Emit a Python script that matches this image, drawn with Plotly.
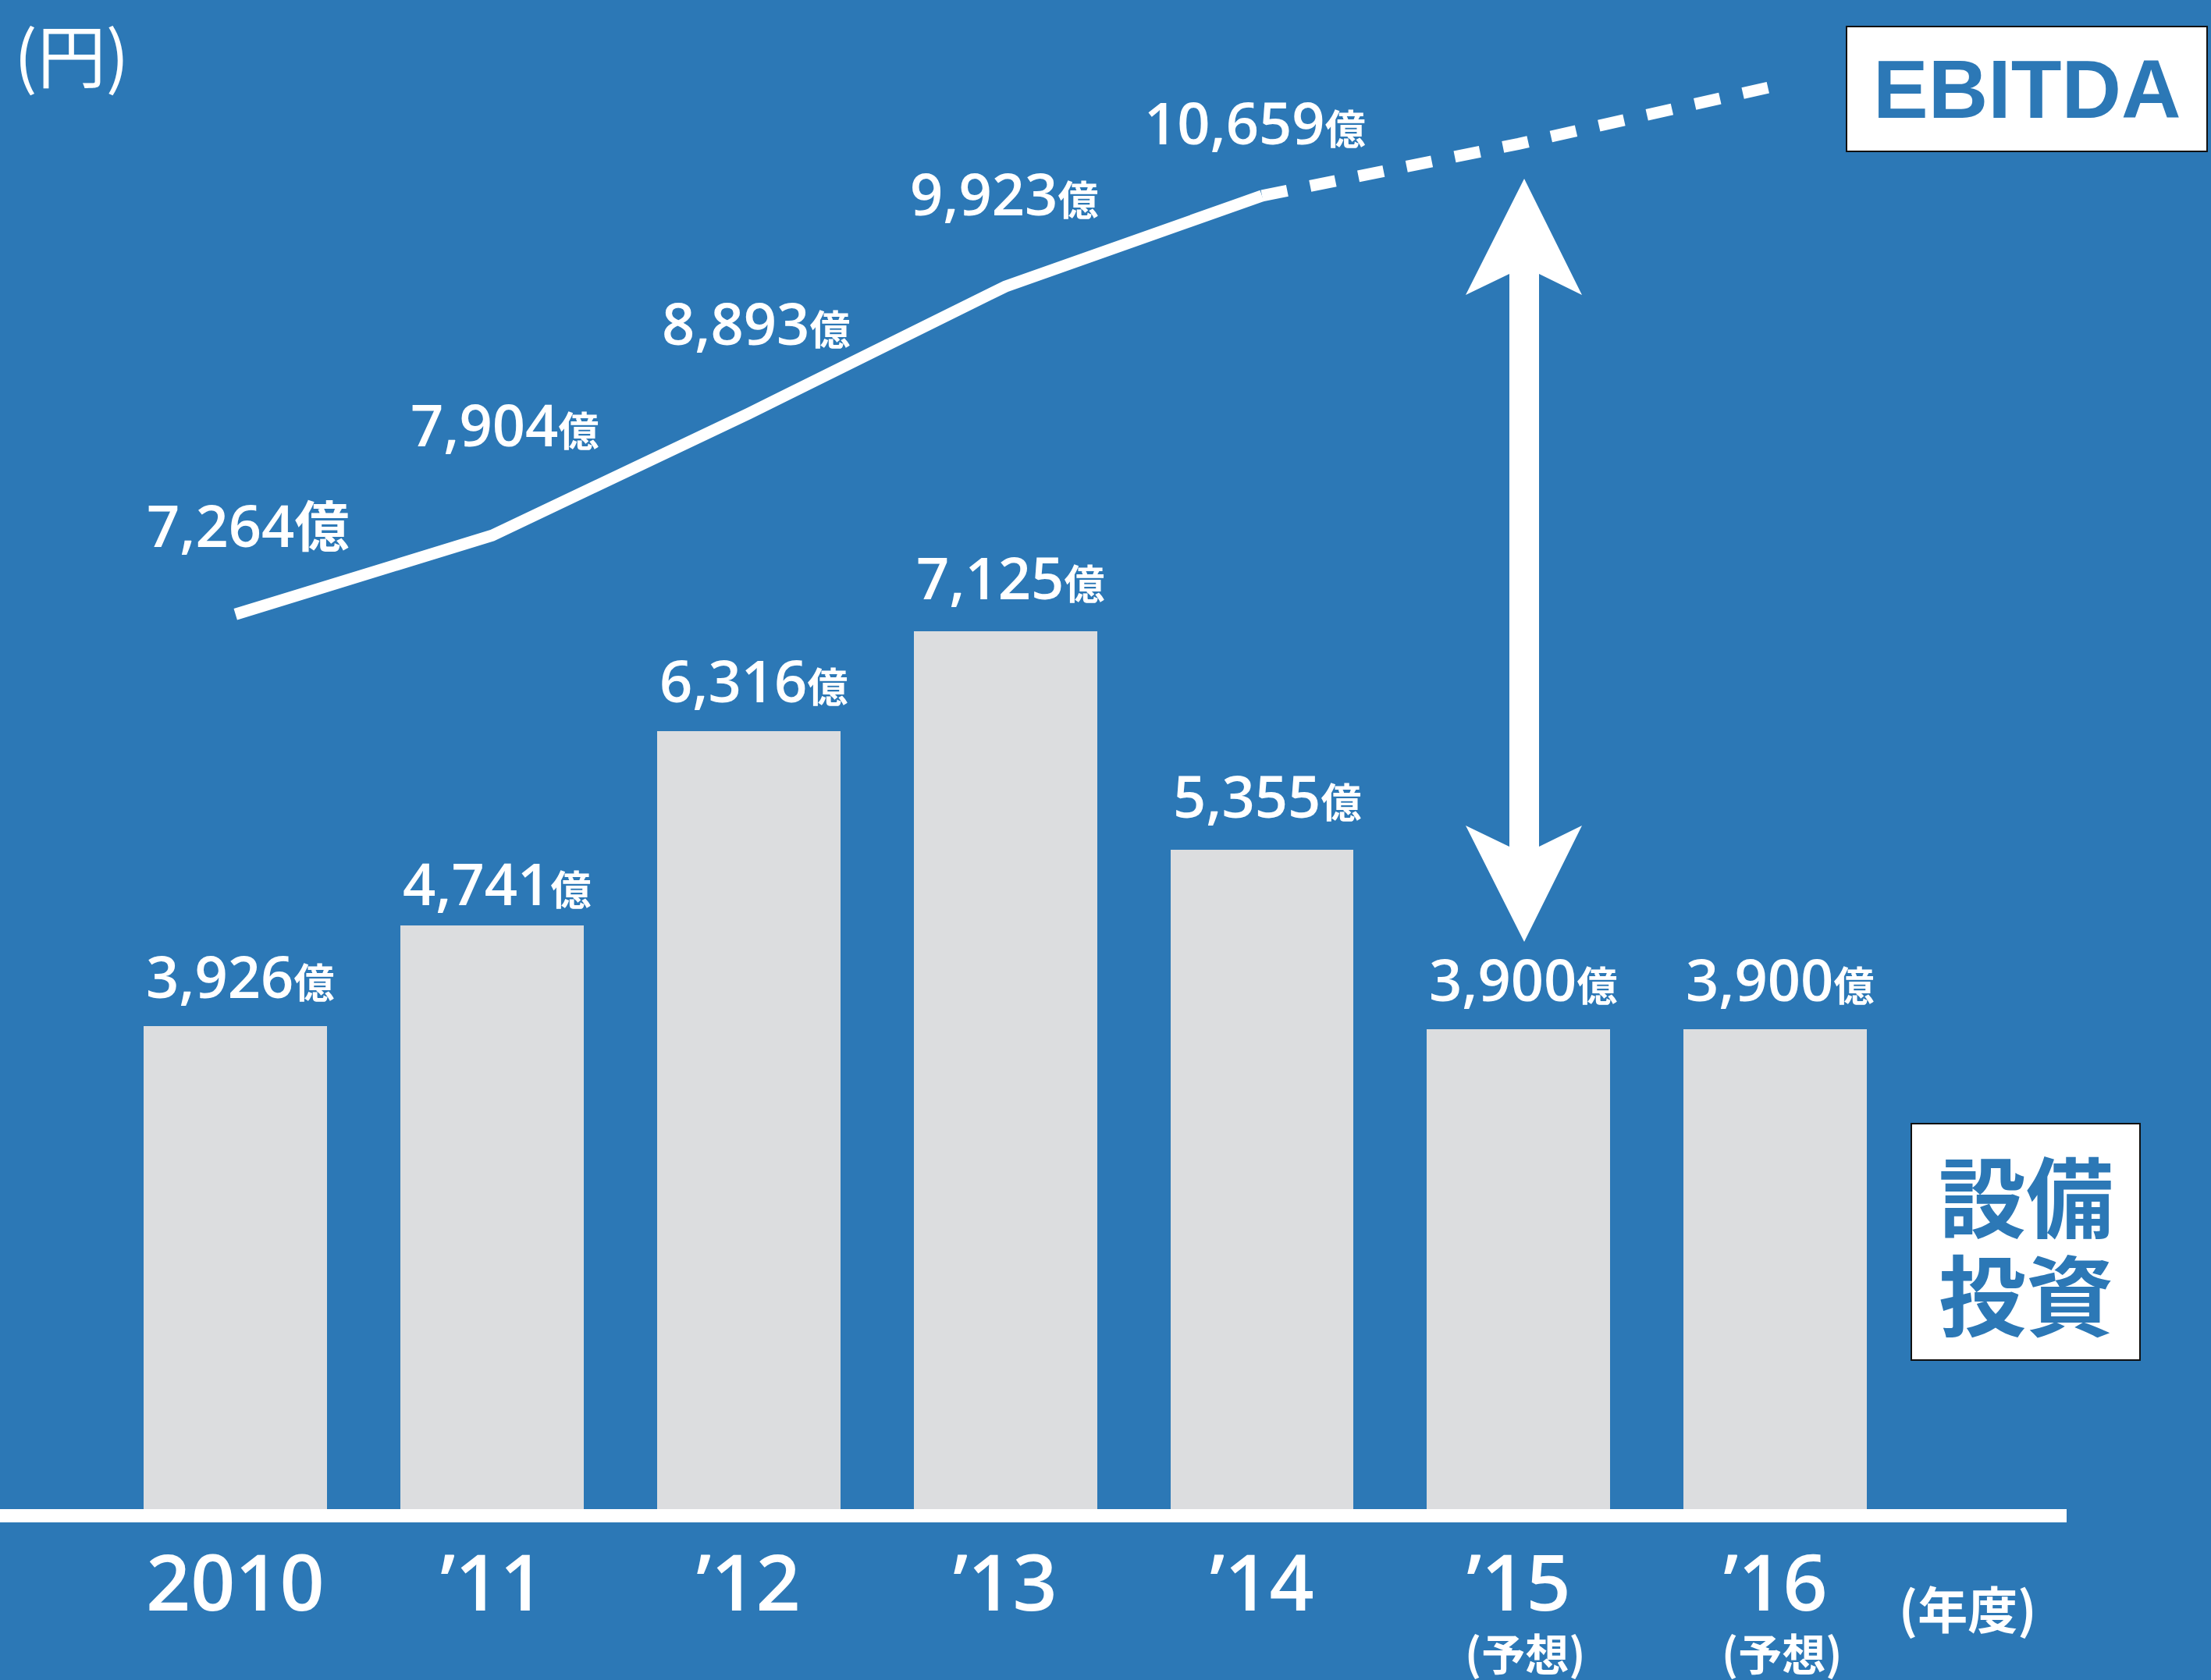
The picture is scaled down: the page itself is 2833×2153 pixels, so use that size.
import plotly.graph_objects as go

# ---------------- data ----------------
categories = ["2010", "'11", "'12", "'13", "'14", "'15", "'16"]
tick_labels = ["2010", "’11", "’12", "’13", "’14", "’15", "’16"]
tick_notes = ["", "", "", "", "", "(予想)", "(予想)"]
capex = [3926, 4741, 6316, 7125, 5355, 3900, 3900]          # 設備投資 (億円)
ebitda_years = ["2010", "'11", "'12", "'13", "'14"]
ebitda = [7264, 7904, 8893, 9923, 10659]                     # EBITDA (億円)
forecast_years = ["'14", "'15", "'16"]
ebitda_forecast = [10659, 11080, 11550]                      # 予想 (dashed, unlabeled)

# ---------------- styles ----------------
W, H = 2833, 2153
BG = "#2C78B6"
BAR = "#DCDDDF"
WHITE = "#FFFFFF"
NUM_FONT = "Open Sans, Noto Sans CJK JP"
CJK_FONT = "Noto Sans CJK JP"

xi = {c: i for i, c in enumerate(categories)}

def px_x(p):
    return p / W

def px_y(p):
    return 1 - p / H

def fmt(v):
    return f"{v:,}"

fig = go.Figure()

fig.add_trace(go.Bar(
    x=[xi[c] for c in categories], y=capex,
    width=0.714, marker=dict(color=BAR, line=dict(width=0)),
    hoverinfo="skip", showlegend=False,
))

fig.add_trace(go.Scatter(
    x=[xi[c] for c in ebitda_years], y=ebitda, mode="lines",
    line=dict(color=WHITE, width=15), hoverinfo="skip", showlegend=False,
))
fig.add_trace(go.Scatter(
    x=[xi[c] for c in forecast_years], y=ebitda_forecast, mode="lines",
    line=dict(color=WHITE, width=15, dash="33px,30px"),
    hoverinfo="skip", showlegend=False,
))

annotations = []

# bar labels
bar_yshift = [12, 2, 13, 17, 17, 12, 12]
for c, v, ys in zip(categories, capex, bar_yshift):
    annotations.append(dict(
        x=xi[c], y=v, xref="x", yref="y", yanchor="bottom", xanchor="center",
        yshift=ys, xshift=6, showarrow=False,
        text=f"{fmt(v)}<span style='font-size:52px'>億</span>",
        font=dict(family=NUM_FONT, size=74, color=WHITE, weight=600),
    ))

# line labels
line_unit_sizes = [70, 52, 52, 52, 52]
line_yshift = [62, 90, 64, 67, 42]
line_xshift = [16, 16, 9, -2, -9]
for c, v, us, ys, xs in zip(ebitda_years, ebitda, line_unit_sizes, line_yshift, line_xshift):
    annotations.append(dict(
        x=xi[c], y=v, xref="x", yref="y", yanchor="bottom", xanchor="center",
        yshift=ys, xshift=xs, showarrow=False,
        text=f"{fmt(v)}<span style='font-size:{us}px'>億</span>",
        font=dict(family=NUM_FONT, size=74, color=WHITE, weight=600),
    ))

# category labels
for c, t, n in zip(categories, tick_labels, tick_notes):
    annotations.append(dict(
        x=xi[c], y=px_y(1955), xref="x", yref="paper", yanchor="top",
        xanchor="center", showarrow=False, text=t,
        font=dict(family=NUM_FONT, size=100, color=WHITE, weight=600),
    ))
    if n:
        annotations.append(dict(
            x=xi[c], y=px_y(2116), xref="x", yref="paper", yanchor="middle",
            xanchor="center", xshift=8, showarrow=False, text=n,
            font=dict(family=CJK_FONT, size=56, color=WHITE, weight="bold"),
        ))

annotations.append(dict(
    x=px_x(2521), y=px_y(2059), xref="paper", yref="paper",
    xanchor="center", yanchor="middle", showarrow=False, text="(年度)",
    font=dict(family=CJK_FONT, size=64, color=WHITE, weight="bold"),
))
annotations.append(dict(
    x=px_x(92), y=px_y(66), xref="paper", yref="paper",
    xanchor="center", yanchor="middle", showarrow=False, text="(円)",
    font=dict(family=CJK_FONT, size=88, color=WHITE),
))
annotations.append(dict(
    x=px_x(2597), y=px_y(114), xref="paper", yref="paper",
    xanchor="center", yanchor="middle", showarrow=False, text="<b>EBITDA</b>",
    font=dict(family="Liberation Sans", size=106, color=BG),
))
annotations.append(dict(
    x=px_x(2596), y=px_y(1529), xref="paper", yref="paper",
    xanchor="center", yanchor="middle", showarrow=False, text="<b>設備</b>",
    font=dict(family=CJK_FONT, size=112, color=BG),
))
annotations.append(dict(
    x=px_x(2596), y=px_y(1655), xref="paper", yref="paper",
    xanchor="center", yanchor="middle", showarrow=False, text="<b>投資</b>",
    font=dict(family=CJK_FONT, size=112, color=BG),
))

shapes = []
# baseline
shapes.append(dict(type="rect", xref="paper", yref="paper",
                   x0=0, x1=px_x(2648), y0=px_y(1951), y1=px_y(1934),
                   fillcolor=WHITE, line=dict(width=0), layer="above"))
# boxes
shapes.append(dict(type="rect", xref="paper", yref="paper",
                   x0=px_x(2366), x1=px_x(2828), y0=px_y(194), y1=px_y(34),
                   fillcolor=WHITE, line=dict(color="#111111", width=2)))
shapes.append(dict(type="rect", xref="paper", yref="paper",
                   x0=px_x(2449), x1=px_x(2742), y0=px_y(1743), y1=px_y(1440),
                   fillcolor=WHITE, line=dict(color="#111111", width=2)))
# double arrow
pts = [(1953, 229), (2027, 378), (1972, 351), (1972, 1085), (2027, 1058),
       (1953, 1207), (1878, 1058), (1934, 1085), (1934, 351), (1878, 378)]
path = "M " + " L ".join(f"{px_x(a):.5f},{px_y(b):.5f}" for a, b in pts) + " Z"
shapes.append(dict(type="path", xref="paper", yref="paper", path=path,
                   fillcolor=WHITE, line=dict(width=0)))

fig.update_layout(
    width=W, height=H,
    margin=dict(l=0, r=0, t=0, b=0),
    paper_bgcolor=BG, plot_bgcolor=BG,
    xaxis=dict(range=[-0.9176, 7.698], visible=False, fixedrange=True),
    yaxis=dict(range=[-1380, 12247], visible=False, fixedrange=True),
    annotations=annotations, shapes=shapes,
    bargap=0, showlegend=False,
)

fig.write_html(
    "out.html",
    config={"displayModeBar": False},
    post_script="document.body.style.margin='0';document.body.style.overflow='hidden';",
)
